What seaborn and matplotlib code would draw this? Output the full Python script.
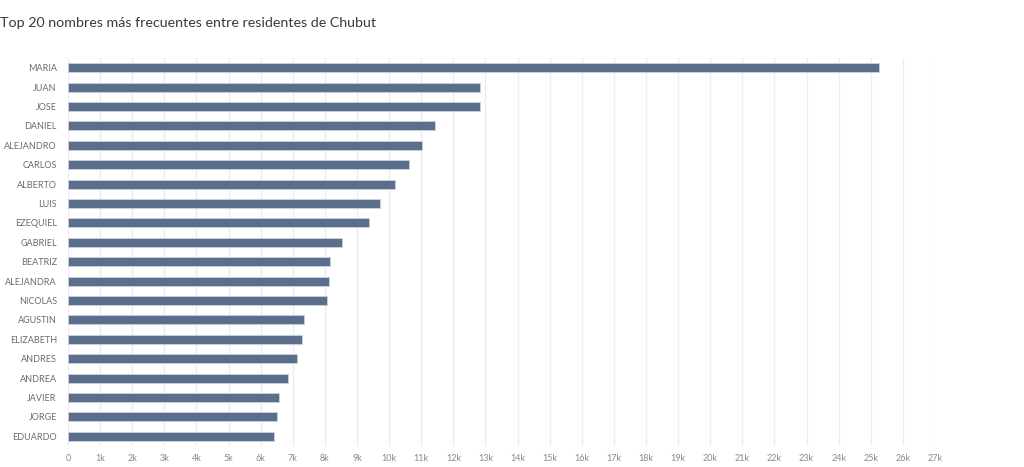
import numpy as np
import pandas as pd
import seaborn as sns
import matplotlib.pyplot as plt
from matplotlib.ticker import FuncFormatter

# datos (miles de personas)
nombres = ['MARIA', 'JUAN', 'JOSE', 'DANIEL', 'ALEJANDRO', 'CARLOS', 'ALBERTO', 'LUIS',
           'EZEQUIEL', 'GABRIEL', 'BEATRIZ', 'ALEJANDRA', 'NICOLAS', 'AGUSTIN',
           'ELIZABETH', 'ANDRES', 'ANDREA', 'JAVIER', 'JORGE', 'EDUARDO']
cantidad = [25250, 12840, 12840, 11420, 11030, 10620, 10180, 9720,
            9370, 8540, 8150, 8130, 8060, 7340,
            7290, 7140, 6860, 6580, 6510, 6420]
ticks_x = list(range(0, 28000, 1000))

df = pd.DataFrame({'nombre': nombres, 'cantidad': cantidad})

sns.set_theme(style='white')
plt.rcParams['font.family'] = ['Lato', 'DejaVu Sans']

fig = plt.figure(figsize=(10.24, 4.67), dpi=100)
ax = fig.add_axes([68 / 1024, 1 - 446 / 467, (935 - 68) / 1024, (446 - 58) / 467])

sns.barplot(data=df, x='cantidad', y='nombre', orient='h', color='#5b6f8d',
            width=0.47, edgecolor='#c9d2df', linewidth=0.6, saturation=1, ax=ax, zorder=3)

ax.set_xlim(0, 27000)
ax.set_ylim(19.5, -0.5)
ax.set_xticks(ticks_x)
ax.xaxis.set_major_formatter(FuncFormatter(lambda v, p: '0' if v == 0 else f'{int(v / 1000)}k'))
ax.grid(axis='x', color='#ededed', linewidth=1, zorder=0)
ax.set_axisbelow(True)
for s in ax.spines.values():
    s.set_visible(False)
ax.set_xlabel('')
ax.set_ylabel('')
ax.tick_params(axis='x', labelsize=6.5, colors='#8a8a8a', length=0, pad=6)
ax.tick_params(axis='y', labelsize=6.5, colors='#6b6b6b', length=0, pad=8)

fig.text(0.0, 1 - 23 / 467, 'Top 20 nombres más frecuentes entre residentes de Chubut',
         fontsize=10.3, color='#3a3a3a', va='center', ha='left')

fig.savefig('out.png', dpi=100)
